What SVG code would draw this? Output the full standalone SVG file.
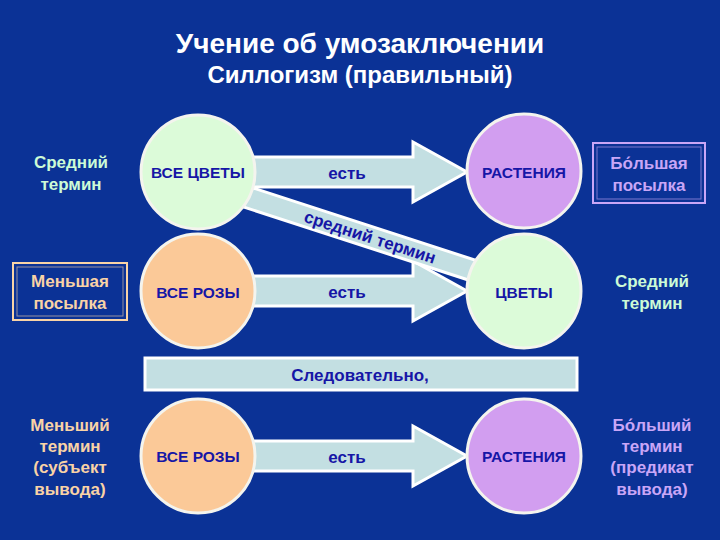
<svg xmlns="http://www.w3.org/2000/svg" width="720" height="540" viewBox="0 0 720 540">
<defs>
<style>
text{font-family:"Liberation Sans",Arial,sans-serif;text-anchor:middle;font-weight:bold}
.title{fill:#ffffff}
.arrow{fill:#c3dfe2;stroke:#ffffff;stroke-width:3;stroke-linejoin:miter}
.circ{stroke:#f4f4ee;stroke-width:3}
.green{fill:#dcfbd9}
.peach{fill:#fbc998}
.lav{fill:#d29ef0}
.in{fill:#1616a6;font-size:15.5px}
.verb{fill:#1616a6;font-size:17px}
.lg{fill:#ccfbd6;font-size:17px}
.lp{fill:#f9d3a6;font-size:17px}
.ll{fill:#c9a6f7;font-size:17px}
</style>
</defs>
<rect x="0" y="0" width="720" height="540" fill="#0b3296"/>
<g id="title">
<text class="title" x="360" y="53" font-size="28">Учение об умозаключении</text>
<text class="title" x="360" y="83" font-size="24">Силлогизм (правильный)</text>
</g>
<g id="connectors">
<polygon class="arrow" points="250,157 413,157 413,142 467,172 413,202 413,187 250,187"/>
<polygon class="arrow" points="250,276 413,276 413,261 467,291 413,321 413,306 250,306"/>
<polygon class="arrow" points="250,441 413,441 413,426 467,456 413,486 413,471 250,471"/>
<g transform="rotate(18 370 237)">
<rect class="arrow" x="230" y="226.5" width="280" height="21"/>
<text class="verb" x="370" y="243" font-size="17">средний термин</text>
</g>
<text class="verb" x="347" y="179">есть</text>
<text class="verb" x="347" y="298">есть</text>
<text class="verb" x="347" y="463">есть</text>
</g>
<g id="therefore">
<rect x="145" y="358" width="432" height="32" fill="#c3dfe2" stroke="#ffffff" stroke-width="3"/>
<text class="verb" x="360" y="381">Следовательно,</text>
</g>
<g id="n-all-flowers">
<circle class="circ green" cx="198" cy="172" r="57"/>
<text class="in" x="198" y="178">ВСЕ ЦВЕТЫ</text>
</g>
<g id="n-plants-1">
<circle class="circ lav" cx="524" cy="171" r="57"/>
<text class="in" x="524" y="178">РАСТЕНИЯ</text>
</g>
<g id="n-all-roses-1">
<circle class="circ peach" cx="198" cy="291" r="57"/>
<text class="in" x="198" y="298">ВСЕ РОЗЫ</text>
</g>
<g id="n-flowers">
<circle class="circ green" cx="524" cy="291" r="57"/>
<text class="in" x="524" y="298">ЦВЕТЫ</text>
</g>
<g id="n-all-roses-2">
<circle class="circ peach" cx="198" cy="456" r="57"/>
<text class="in" x="198" y="462">ВСЕ РОЗЫ</text>
</g>
<g id="n-plants-2">
<circle class="circ lav" cx="524" cy="456" r="57"/>
<text class="in" x="524" y="462">РАСТЕНИЯ</text>
</g>
<g id="l-middle-left">
<text class="lg" x="71" y="168">Средний</text>
<text class="lg" x="71" y="190">термин</text>
</g>
<g id="l-minor-premise">
<rect x="13" y="263" width="114" height="57" fill="none" stroke="#f9d3a6" stroke-width="2"/>
<rect x="17" y="267" width="106" height="49" fill="none" stroke="#f9d3a6" stroke-width="1" opacity="0.6"/>
<text class="lp" x="70" y="287">Меньшая</text>
<text class="lp" x="70" y="309">посылка</text>
</g>
<g id="l-major-premise">
<rect x="593" y="143" width="112" height="60" fill="none" stroke="#c9a6f7" stroke-width="2"/>
<rect x="597" y="147" width="104" height="52" fill="none" stroke="#c9a6f7" stroke-width="1" opacity="0.6"/>
<text class="ll" x="649" y="169">Бо́льшая</text>
<text class="ll" x="649" y="191">посылка</text>
</g>
<g id="l-middle-right">
<text class="lg" x="652" y="287">Средний</text>
<text class="lg" x="652" y="309">термин</text>
</g>
<g id="l-minor-term">
<text class="lp" x="70" y="431">Меньший</text>
<text class="lp" x="70" y="452">термин</text>
<text class="lp" x="70" y="473">(субъект</text>
<text class="lp" x="70" y="495">вывода)</text>
</g>
<g id="l-major-term">
<text class="ll" x="652" y="431">Бо́льший</text>
<text class="ll" x="652" y="452">термин</text>
<text class="ll" x="652" y="473">(предикат</text>
<text class="ll" x="652" y="495">вывода)</text>
</g>
</svg>
